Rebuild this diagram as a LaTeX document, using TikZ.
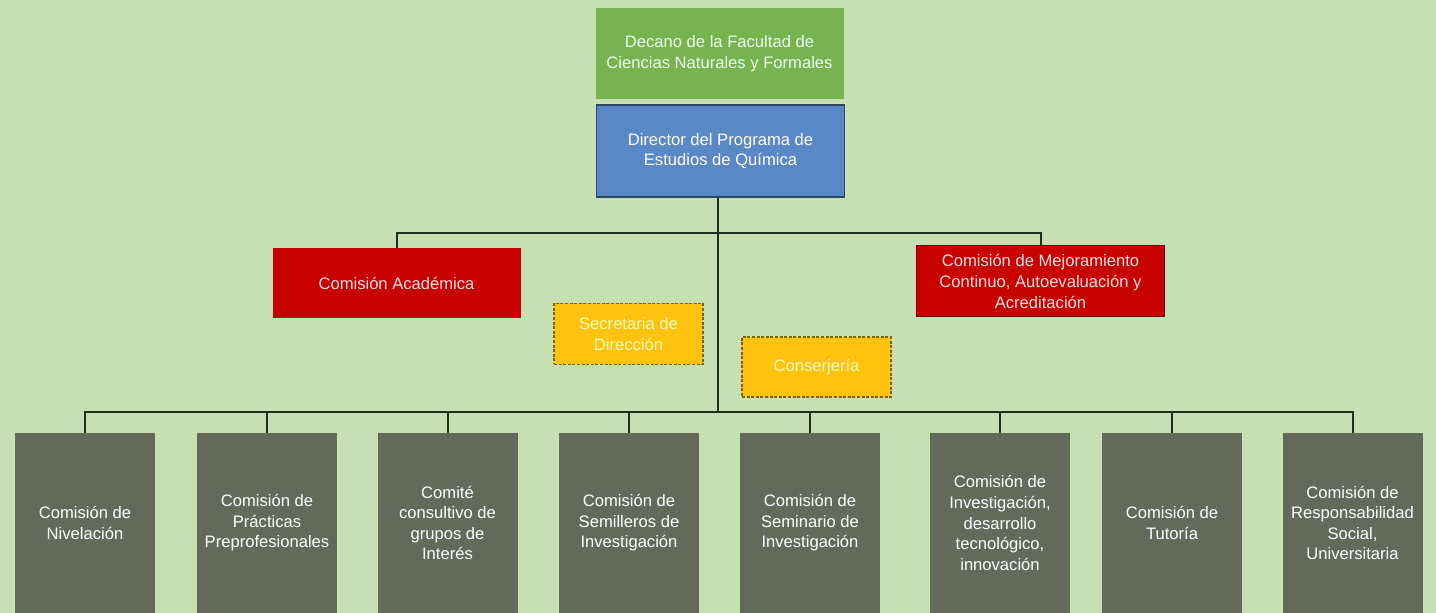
\documentclass[tikz,border=0pt]{standalone}
\usepackage{fontspec}
\setmainfont{Liberation Sans}
\usepackage{tikz}
\definecolor{fondo}{HTML}{C6E0B4}
\definecolor{verde}{HTML}{78B352}
\definecolor{azul}{HTML}{5A87C6}
\definecolor{rojo}{HTML}{C70000}
\definecolor{amarillo}{HTML}{FFC20E}
\definecolor{gris}{HTML}{646A5A}
\definecolor{linea}{HTML}{1B2F1B}

\begin{document}
\begin{tikzpicture}
[
x=0.5pt,y=-0.5pt,
box/.style={rectangle,inner sep=1pt,align=center,text=white,font=\fontsize{8.3}{10.3}\selectfont},
head/.style 2 args={box,fill=#1,minimum width=124pt,minimum height=#2},
staff/.style={box,fill=amarillo,text=yellow!25,draw=amarillo!50!black,line width=0.8pt,dash pattern=on 1.5pt off 0.8pt,minimum width=74.5pt,minimum height=30.5pt},
comision/.style={box,fill=gris,minimum width=70pt,minimum height=90pt},
conn/.style={draw=linea,line width=1pt},
]

\fill[fondo] (0,0) rectangle (1436,613);

%Place the nodes
\node[head={verde}{45.5pt},text=green!8] (decano) at (719.5,53.5) {Decano de la Facultad de\\Ciencias Naturales y Formales};
\node[head={azul}{46pt},draw=azul!50!black,line width=0.6pt] (director) at (720.5,151) {Director del Programa de\\Estudios de Química};
\node[head={rojo}{35pt},text=red!12] (acad) at (396.5,283) {Comisión Académica};
\node[head={rojo}{35.5pt},text=red!12,draw=rojo!55!black,line width=0.5pt] (mejora) at (1040.5,281.5) {Comisión de Mejoramiento\\Continuo, Autoevaluación y\\Acreditación};
\node[staff] (secre) at (628.5,334) {Secretaria de\\Dirección};
\node[staff,minimum height=30pt] (conser) at (816.5,367) {Conserjería};

\node[comision] (c1) at (85,523) {Comisión de\\Nivelación};
\node[comision] (c2) at (267,523) {Comisión de\\Prácticas\\Preprofesionales};
\node[comision] (c3) at (447.5,523) {Comité\\consultivo de\\grupos de\\Interés};
\node[comision] (c4) at (629,523) {Comisión de\\Semilleros de\\Investigación};
\node[comision] (c5) at (810,523) {Comisión de\\Seminario de\\Investigación};
\node[comision] (c6) at (1000,523) {Comisión de\\Investigación,\\desarrollo\\tecnológico,\\innovación};
\node[comision] (c7) at (1172,523) {Comisión de\\Tutoría};
\node[comision] (c8) at (1352.5,523) {Comisión de\\Responsabilidad\\Social,\\Universitaria};

\coordinate (tbus) at (718,233);
\coordinate (bbus) at (718,412);

%Draw the connections
\draw[conn] (director.south -| tbus) -- (bbus);
\draw[conn] (acad.north) |- (tbus) -| (mejora.north);
\foreach \i in {1,...,8}
  \draw[conn] (bbus) -| (c\i.north);
\end{tikzpicture}
\end{document}
